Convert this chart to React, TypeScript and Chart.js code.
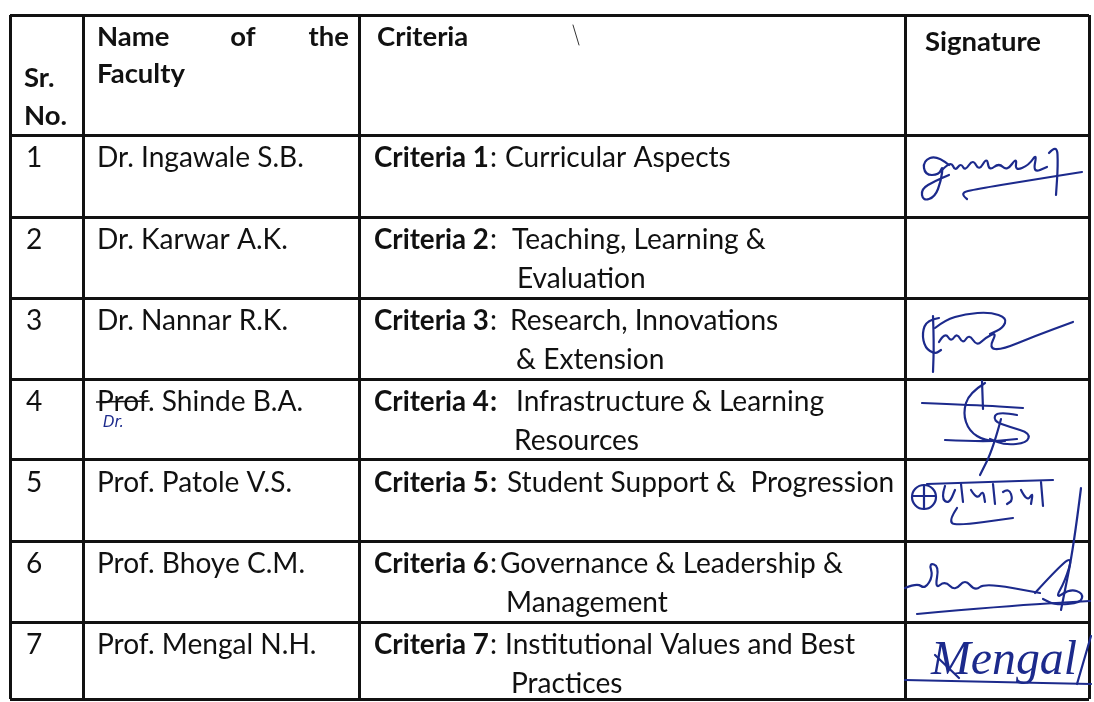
import React, { useEffect, useRef } from "react";
import { Chart, registerables } from "chart.js";

Chart.register(...registerables);

// ---------------- data ----------------
const headerSr = ["Sr.", "No."];
const headerNameWords = ["Name", "of", "the"];
const headerNameLine2 = "Faculty";
const headerCriteria = "Criteria";
const headerSignature = "Signature";

const srNumbers = ["1", "2", "3", "4", "5", "6", "7"];
const facultyNames = [
  "Dr. Ingawale S.B.",
  "Dr. Karwar A.K.",
  "Dr. Nannar R.K.",
  "Prof. Shinde B.A.",
  "Prof. Patole V.S.",
  "Prof. Bhoye C.M.",
  "Prof. Mengal N.H.",
];
const criteriaLabels = [
  "Criteria 1",
  "Criteria 2",
  "Criteria 3",
  "Criteria 4",
  "Criteria 5",
  "Criteria 6",
  "Criteria 7",
];
const criteriaColonBold = [false, false, false, true, true, false, false];
const criteriaLine1 = [
  "Curricular Aspects",
  "Teaching, Learning &",
  "Research, Innovations",
  "Infrastructure & Learning",
  "Student Support &  Progression",
  "Governance & Leadership &",
  "Institutional Values and Best",
];
const criteriaLine2 = ["", "Evaluation", "& Extension", "Resources", "", "Management", "Practices"];
const signedRows = [true, false, true, true, true, true, true];
const correctedTitleRow = 3; // "Prof" struck out, "Dr." written by hand
const correctedTitle = "Dr.";
const signatureText7 = "Mengal";

// ---------------- layout (not data) ----------------
const COL_EDGES = [0, 73, 349, 895, 1079];
const ROW_EDGES = [0, 120, 202, 283, 364, 445, 526, 607, 684];
const DESC_OFFSET = [146, 153, 151, 157, 148, 141, 146];
const CONT_OFFSET = [0, 158, 157, 155, 0, 147, 152];
const INK = "#1c2a8c";
const TEXT = "#111111";
const FAMILY = "Lato, 'Open Sans', sans-serif";

type Pt = [number, number];

// hand-drawn signature strokes, relative to the top-left of each signature cell
const SIG_STROKES: Pt[][][] = [
  [
    [[44, 30], [32, 20], [18, 26], [20, 40], [34, 40], [38, 30], [36, 46], [30, 62], [18, 66], [16, 54], [30, 46], [44, 40]],
    [[38, 34], [46, 26], [50, 36], [56, 28], [60, 36], [68, 24], [74, 36], [82, 22], [84, 36], [94, 28], [102, 36], [112, 22], [110, 36], [124, 30], [132, 18], [128, 38], [142, 32]],
    [[62, 64], [54, 58], [72, 54], [120, 46], [177, 37]],
    [[144, 18], [152, 9], [153, 30], [151, 60]],
  ],
  [],
  [
    [[28, 18], [29, 45], [28, 74]],
    [[34, 20], [22, 22], [17, 35], [20, 50], [30, 56], [36, 52]],
    [[30, 30], [40, 22], [60, 16], [85, 14], [102, 20], [98, 30], [85, 36]],
    [[34, 44], [40, 34], [46, 44], [52, 35], [58, 46], [64, 36], [72, 48], [80, 40], [92, 34], [84, 50], [96, 52], [130, 38], [168, 24]],
  ],
  [
    [[17, 24], [70, 26], [118, 29]],
    [[80, 4], [64, 14], [58, 34], [64, 52], [80, 62], [100, 62]],
    [[112, 36], [92, 32], [88, 42], [105, 48], [125, 54], [122, 64], [100, 66], [85, 60]],
    [[40, 61], [80, 63], [112, 60]],
    [[96, 40], [88, 70], [75, 96]],
    [[77, 2], [78, 30]],
  ],
  [
    [[22, 24], [80, 22], [148, 20]],
    [[40, 26], [36, 38], [44, 44], [50, 30]],
    [[56, 24], [58, 42]],
    [[66, 30], [72, 40], [78, 30], [80, 42]],
    [[88, 24], [90, 44]],
    [[98, 32], [104, 28], [108, 40], [102, 44]],
    [[116, 30], [122, 42], [128, 32], [126, 44]],
    [[136, 22], [138, 46]],
    [[52, 48], [44, 60], [50, 66], [108, 58]],
    [[176, 28], [172, 60], [166, 100], [160, 130], [156, 150]],
  ],
  [
    [[0, 47], [12, 42], [20, 48], [28, 35], [24, 22], [34, 25], [30, 48], [40, 40], [50, 50], [60, 38], [70, 50], [80, 42], [135, 52]],
    [[130, 52], [150, 30], [168, 14], [160, 40], [150, 58], [165, 48], [178, 52], [176, 62], [150, 64], [138, 58]],
    [[12, 73], [100, 65], [185, 60]],
  ],
  [
    [[30, 33], [54, 56]],
    [[0, 58], [90, 60], [186, 62]],
    [[172, 62], [186, 14]],
  ],
];

function smooth(ctx: CanvasRenderingContext2D, pts: Pt[], ox: number, oy: number) {
  if (!pts.length) return;
  ctx.beginPath();
  ctx.moveTo(ox + pts[0][0], oy + pts[0][1]);
  for (let i = 1; i < pts.length - 1; i++) {
    const mx = (pts[i][0] + pts[i + 1][0]) / 2;
    const my = (pts[i][1] + pts[i + 1][1]) / 2;
    ctx.quadraticCurveTo(ox + pts[i][0], oy + pts[i][1], ox + mx, oy + my);
  }
  const l = pts[pts.length - 1];
  ctx.lineTo(ox + l[0], oy + l[1]);
  ctx.stroke();
}

function fitSize(ctx: CanvasRenderingContext2D, text: string, weight: string, target: number, family: string) {
  ctx.font = `${weight} 100px ${family}`;
  const w = ctx.measureText(text).width;
  return (100 * target) / w;
}

const tablePlugin = {
  id: "tableText",
  afterDraw(chart: any) {
    const { ctx } = chart;
    const xs = chart.scales.x;
    const ys = chart.scales.y;
    const X = (v: number) => xs.getPixelForValue(v);
    const Y = (v: number) => ys.getPixelForValue(v);

    const regSize = fitSize(ctx, facultyNames[0], "normal", 207, FAMILY);
    const boldSize = fitSize(ctx, criteriaLabels[0], "bold", 115, FAMILY);
    const headSize = fitSize(ctx, headerSignature, "bold", 116, FAMILY);
    const REG = `normal ${regSize}px ${FAMILY}`;
    const BOLD = `bold ${boldSize}px ${FAMILY}`;
    const HEAD = `bold ${headSize}px ${FAMILY}`;

    ctx.save();
    ctx.fillStyle = TEXT;
    ctx.textBaseline = "alphabetic";
    ctx.textAlign = "left";

    // header
    const top = Y(ROW_EDGES[0]);
    ctx.font = HEAD;
    ctx.fillText(headerSr[0], X(COL_EDGES[0]) + 14, top + 72);
    ctx.fillText(headerSr[1], X(COL_EDGES[0]) + 14, top + 110);
    ctx.fillText(headerNameWords[0], X(COL_EDGES[1]) + 14, top + 31);
    ctx.textAlign = "center";
    ctx.fillText(headerNameWords[1], X(COL_EDGES[1]) + 160, top + 31);
    ctx.textAlign = "right";
    ctx.fillText(headerNameWords[2], X(COL_EDGES[2]) - 10, top + 31);
    ctx.textAlign = "left";
    ctx.fillText(headerNameLine2, X(COL_EDGES[1]) + 14, top + 68);
    ctx.fillText(headerCriteria, X(COL_EDGES[2]) + 18, top + 31);
    ctx.fillText(headerSignature, X(COL_EDGES[3]) + 20, top + 36);

    // body rows
    srNumbers.forEach((sr, i) => {
      const rt = Y(ROW_EDGES[i + 1]);
      const b1 = rt + 32;
      const b2 = rt + 71;
      ctx.fillStyle = TEXT;
      ctx.font = REG;
      ctx.fillText(sr, X(COL_EDGES[0]) + 16, b1);
      const nx = X(COL_EDGES[1]) + 14;
      ctx.fillText(facultyNames[i], nx, b1);
      if (i === correctedTitleRow) {
        const w = ctx.measureText(facultyNames[i].split(".")[0]).width;
        ctx.strokeStyle = TEXT;
        ctx.lineWidth = 1.6;
        ctx.beginPath();
        ctx.moveTo(nx - 1, b1 - 9);
        ctx.lineTo(nx + w + 1, b1 - 10);
        ctx.stroke();
        ctx.fillStyle = INK;
        ctx.font = `italic 15px 'DejaVu Sans', sans-serif`;
        ctx.fillText(correctedTitle, nx + 6, b1 + 16);
        ctx.fillStyle = TEXT;
      }
      // criteria
      const cx = X(COL_EDGES[2]) + 15;
      ctx.font = BOLD;
      ctx.fillText(criteriaLabels[i], cx, b1);
      const lw = ctx.measureText(criteriaLabels[i]).width;
      ctx.font = criteriaColonBold[i] ? BOLD : REG;
      ctx.fillText(":", cx + lw + 1, b1);
      ctx.font = REG;
      ctx.fillText(criteriaLine1[i], X(COL_EDGES[2]) + DESC_OFFSET[i], b1);
      if (criteriaLine2[i]) ctx.fillText(criteriaLine2[i], X(COL_EDGES[2]) + CONT_OFFSET[i], b2);
    });

    // signatures
    ctx.strokeStyle = INK;
    ctx.lineCap = "round";
    ctx.lineJoin = "round";
    ctx.lineWidth = 2.2;
    srNumbers.forEach((_, i) => {
      if (!signedRows[i]) return;
      const ox = X(COL_EDGES[3]);
      const oy = Y(ROW_EDGES[i + 1]);
      SIG_STROKES[i].forEach((s) => smooth(ctx, s, ox, oy));
      if (i === 4) {
        ctx.beginPath();
        ctx.arc(ox + 19, oy + 37, 12, 0, Math.PI * 2);
        ctx.stroke();
        smooth(ctx, [[8, 36], [30, 36]], ox, oy);
        smooth(ctx, [[19, 25], [19, 49]], ox, oy);
      }
      if (i === 6) {
        ctx.fillStyle = INK;
        const fam = "'Liberation Serif', serif";
        const s = fitSize(ctx, signatureText7, "italic", 146, fam);
        ctx.font = `italic ${s}px ${fam}`;
        ctx.fillText(signatureText7, ox + 26, oy + 52);
      }
    });

    // small pencil tick near the criteria header
    ctx.strokeStyle = "#333";
    ctx.lineWidth = 1;
    ctx.beginPath();
    ctx.moveTo(X(COL_EDGES[2]) + 214, top + 10);
    ctx.lineTo(X(COL_EDGES[2]) + 220, top + 30);
    ctx.stroke();
    ctx.restore();
  },
};

export default function App() {
  const ref = useRef<HTMLCanvasElement | null>(null);
  useEffect(() => {
    document.body.style.margin = "0";
    const canvas = ref.current;
    if (!canvas) return;
    const chart = new Chart(canvas, {
      type: "scatter",
      data: { datasets: [{ data: [], showLine: false, pointRadius: 0 }] },
      options: {
        animation: false,
        responsive: false,
        maintainAspectRatio: false,
        layout: { padding: { left: 10, top: 15, right: 5, bottom: 3 } },
        plugins: { legend: { display: false }, tooltip: { enabled: false } },
        scales: {
          x: {
            type: "linear",
            min: COL_EDGES[0],
            max: COL_EDGES[COL_EDGES.length - 1],
            ticks: { display: false },
            grid: { color: TEXT, lineWidth: 3, drawTicks: false },
            border: { display: false },
            afterBuildTicks: (s: any) => {
              s.ticks = COL_EDGES.map((v) => ({ value: v }));
            },
          },
          y: {
            type: "linear",
            reverse: true,
            min: ROW_EDGES[0],
            max: ROW_EDGES[ROW_EDGES.length - 1],
            ticks: { display: false },
            grid: { color: TEXT, lineWidth: 3, drawTicks: false },
            border: { display: false },
            afterBuildTicks: (s: any) => {
              s.ticks = ROW_EDGES.map((v) => ({ value: v }));
            },
          },
        },
      },
      plugins: [tablePlugin],
    });
    return () => chart.destroy();
  }, []);
  return (
    <div style={{ width: 1094, height: 702, background: "#fff" }}>
      <canvas ref={ref} width={1094} height={702} style={{ display: "block" }} />
    </div>
  );
}
